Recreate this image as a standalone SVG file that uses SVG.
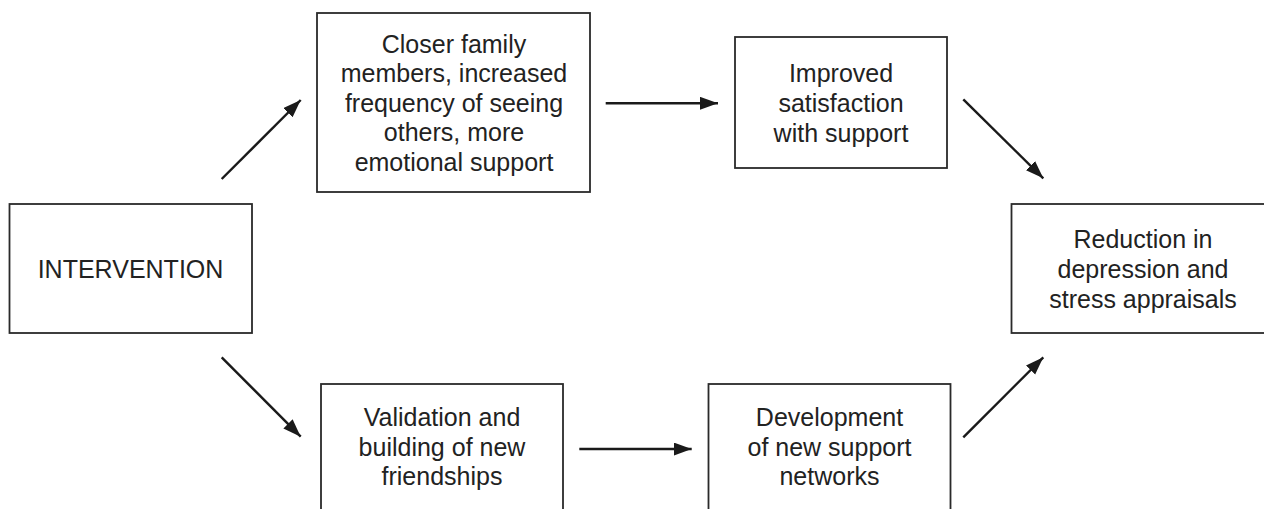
<svg xmlns="http://www.w3.org/2000/svg" width="1264" height="509" viewBox="0 0 1264 509">
  <defs>
    <style>
      .box { fill: #ffffff; stroke: #2a2a2a; stroke-width: 1.8; }
      .lbl { font-family: "Liberation Sans", Arial, Helvetica, sans-serif; font-size: 25px; fill: #222222; text-anchor: middle; }
      .conn { stroke: #1a1a1a; stroke-width: 2.4; fill: none; marker-end: url(#arrow); }
    </style>
    <marker id="arrow" markerUnits="userSpaceOnUse" markerWidth="20" markerHeight="14" refX="18" refY="6.5" orient="auto">
      <path d="M0,0 L18,6.5 L0,13 z" fill="#1a1a1a"/>
    </marker>
  </defs>
  <rect width="1264" height="509" fill="#ffffff"/>

  <g id="intervention">
    <rect class="box" x="9.5" y="204" width="242.5" height="129"/>
    <text class="lbl" x="130.5" y="278">INTERVENTION</text>
  </g>

  <g id="closer-family">
    <rect class="box" x="317" y="13" width="273" height="179"/>
    <text class="lbl" x="454" y="52.5">Closer family</text>
    <text class="lbl" x="454" y="82">members, increased</text>
    <text class="lbl" x="454" y="111.5">frequency of seeing</text>
    <text class="lbl" x="454" y="141">others, more</text>
    <text class="lbl" x="454" y="170.5">emotional support</text>
  </g>

  <g id="improved-satisfaction">
    <rect class="box" x="735" y="37" width="212" height="131"/>
    <text class="lbl" x="841" y="81.5">Improved</text>
    <text class="lbl" x="841" y="111.5">satisfaction</text>
    <text class="lbl" x="841" y="141.5">with support</text>
  </g>

  <g id="reduction">
    <rect class="box" x="1011.5" y="204" width="265" height="129"/>
    <text class="lbl" x="1143" y="247.5">Reduction in</text>
    <text class="lbl" x="1143" y="277.5">depression and</text>
    <text class="lbl" x="1143" y="307.5">stress appraisals</text>
  </g>

  <g id="validation">
    <rect class="box" x="321" y="384" width="242" height="140"/>
    <text class="lbl" x="442" y="426">Validation and</text>
    <text class="lbl" x="442" y="455.5">building of new</text>
    <text class="lbl" x="442" y="485">friendships</text>
  </g>

  <g id="development">
    <rect class="box" x="708.5" y="384" width="242" height="140"/>
    <text class="lbl" x="829.5" y="426">Development</text>
    <text class="lbl" x="829.5" y="455.5">of new support</text>
    <text class="lbl" x="829.5" y="485">networks</text>
  </g>

  <g id="connectors">
    <line class="conn" x1="221.7" y1="179" x2="300.7" y2="100"/>
    <line class="conn" x1="605.7" y1="103.3" x2="718" y2="103.3"/>
    <line class="conn" x1="963.3" y1="99.3" x2="1043.3" y2="178.3"/>
    <line class="conn" x1="221.7" y1="357.3" x2="300.7" y2="436.7"/>
    <line class="conn" x1="579.3" y1="449" x2="691.7" y2="449"/>
    <line class="conn" x1="963.3" y1="437.3" x2="1043.3" y2="357.3"/>
  </g>
</svg>
